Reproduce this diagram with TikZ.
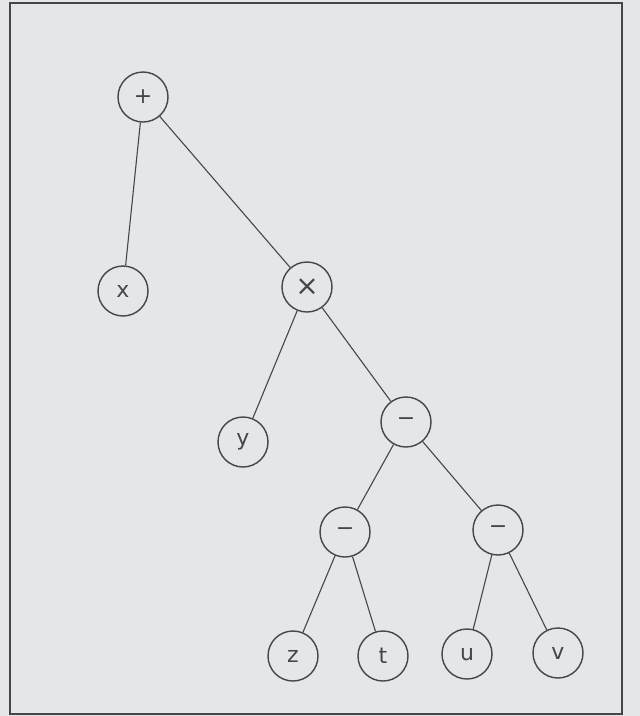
\documentclass[tikz,border=0pt]{standalone}
\usepackage{fontspec}
\setsansfont{DejaVu Sans}
\usepackage{tikz}
\definecolor{paper}{RGB}{228,230,233}
\definecolor{pencil}{RGB}{70,70,70}
\tikzset{
  vertex/.style={circle, draw=pencil, line width=1.4pt, minimum size=50pt, inner sep=0pt,
    text=pencil, font=\fontsize{22}{24}\selectfont\sffamily},
  branch/.style={draw=pencil, line width=1.1pt}
}
\begin{document}
\begin{tikzpicture}[x=1pt, y=-1pt]
\fill[paper] (0,0) rectangle (640,716);
\draw[pencil, line width=1.5pt] (10,3) rectangle (622,714);
\node[vertex] (plus) at (143,97) {+};
\node[vertex] (x) at (123,291) {x};
\node[vertex] (times) at (307,287) {\fontsize{28}{30}\selectfont ×};
\node[vertex] (y) at (243,442) {y};
\node[vertex] (sub) at (406,422) {−};
\node[vertex] (subl) at (345,532) {−};
\node[vertex] (subr) at (498,530) {−};
\node[vertex] (z) at (293,656) {z};
\node[vertex] (t) at (383,656) {t};
\node[vertex] (u) at (467,654) {u};
\node[vertex] (v) at (558,653) {v};
\draw[branch] (plus) -- (x);
\draw[branch] (plus) -- (times);
\draw[branch] (times) -- (y);
\draw[branch] (times) -- (sub);
\draw[branch] (sub) -- (subl);
\draw[branch] (sub) -- (subr);
\draw[branch] (subl) -- (z);
\draw[branch] (subl) -- (t);
\draw[branch] (subr) -- (u);
\draw[branch] (subr) -- (v);
\end{tikzpicture}
\end{document}
